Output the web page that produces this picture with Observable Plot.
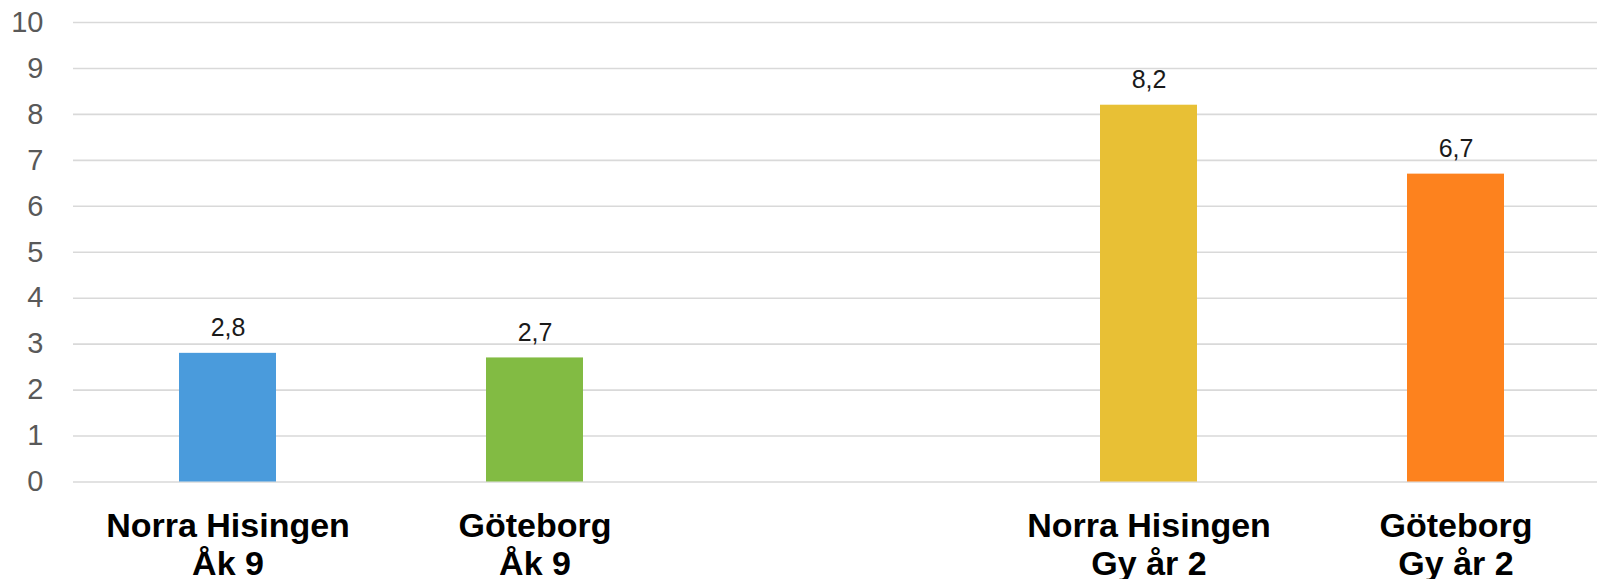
<!DOCTYPE html>
<html>
<head>
<meta charset="utf-8">
<script src="https://cdn.jsdelivr.net/npm/d3@7"></script>
<script src="https://cdn.jsdelivr.net/npm/@observablehq/plot@0.6"></script>
<style>
  html, body { margin: 0; padding: 0; background: #fff; }
  #chart { width: 1597px; height: 579px; overflow: hidden; }
  svg { font-family: "Liberation Sans", Arial, sans-serif; }
</style>
</head>
<body>
<div id="chart"></div>
<script>
const categories = ["Norra Hisingen\nÅk 9", "Göteborg\nÅk 9", " ", "Norra Hisingen\nGy år 2", "Göteborg\nGy år 2"];
const values = [2.8, 2.7, null, 8.2, 6.7];
const colors = ["#4A9BDC", "#82BB43", null, "#E8C035", "#FD821E"];
const yTicks = [0, 1, 2, 3, 4, 5, 6, 7, 8, 9, 10];

const data = categories.map((c, i) => ({cat: c, value: values[i], color: colors[i]}))
  .filter(d => d.value != null);

const fmt = v => String(v).replace(".", ",");

const chart = Plot.plot({
  width: 1597,
  height: 579,
  marginLeft: 73,
  marginRight: 0,
  marginTop: 22,
  marginBottom: 97.5,
  style: {fontFamily: "'Liberation Sans', Arial, sans-serif", background: "#fff"},
  x: {domain: categories, range: [73, 1610], paddingInner: 0.685, paddingOuter: 0.3425, axis: null, label: null},
  y: {domain: [0, 10], axis: null, label: null},
  marks: [
    Plot.gridY(yTicks, {stroke: "#d9d9d9", strokeOpacity: 1, strokeWidth: 1.6}),
    Plot.axisY(yTicks, {tickSize: 0, tickPadding: 30, fontSize: 29, fill: "#595959", label: null, tickFormat: d => String(d)}),
    Plot.barY(data, {x: "cat", y: "value", fill: d => d.color}),
    Plot.text(data, {x: "cat", y: "value", text: d => fmt(d.value), lineAnchor: "bottom", dy: -17, fontSize: 25, fill: "#1a1a1a"}),
    Plot.axisX({tickSize: 0, tickPadding: 28, fontSize: 34, fontWeight: "bold", fill: "#000", lineHeight: 1.12, label: null, tickFormat: d => d.trim()})
  ]
});
document.getElementById("chart").appendChild(chart);
</script>
</body>
</html>
